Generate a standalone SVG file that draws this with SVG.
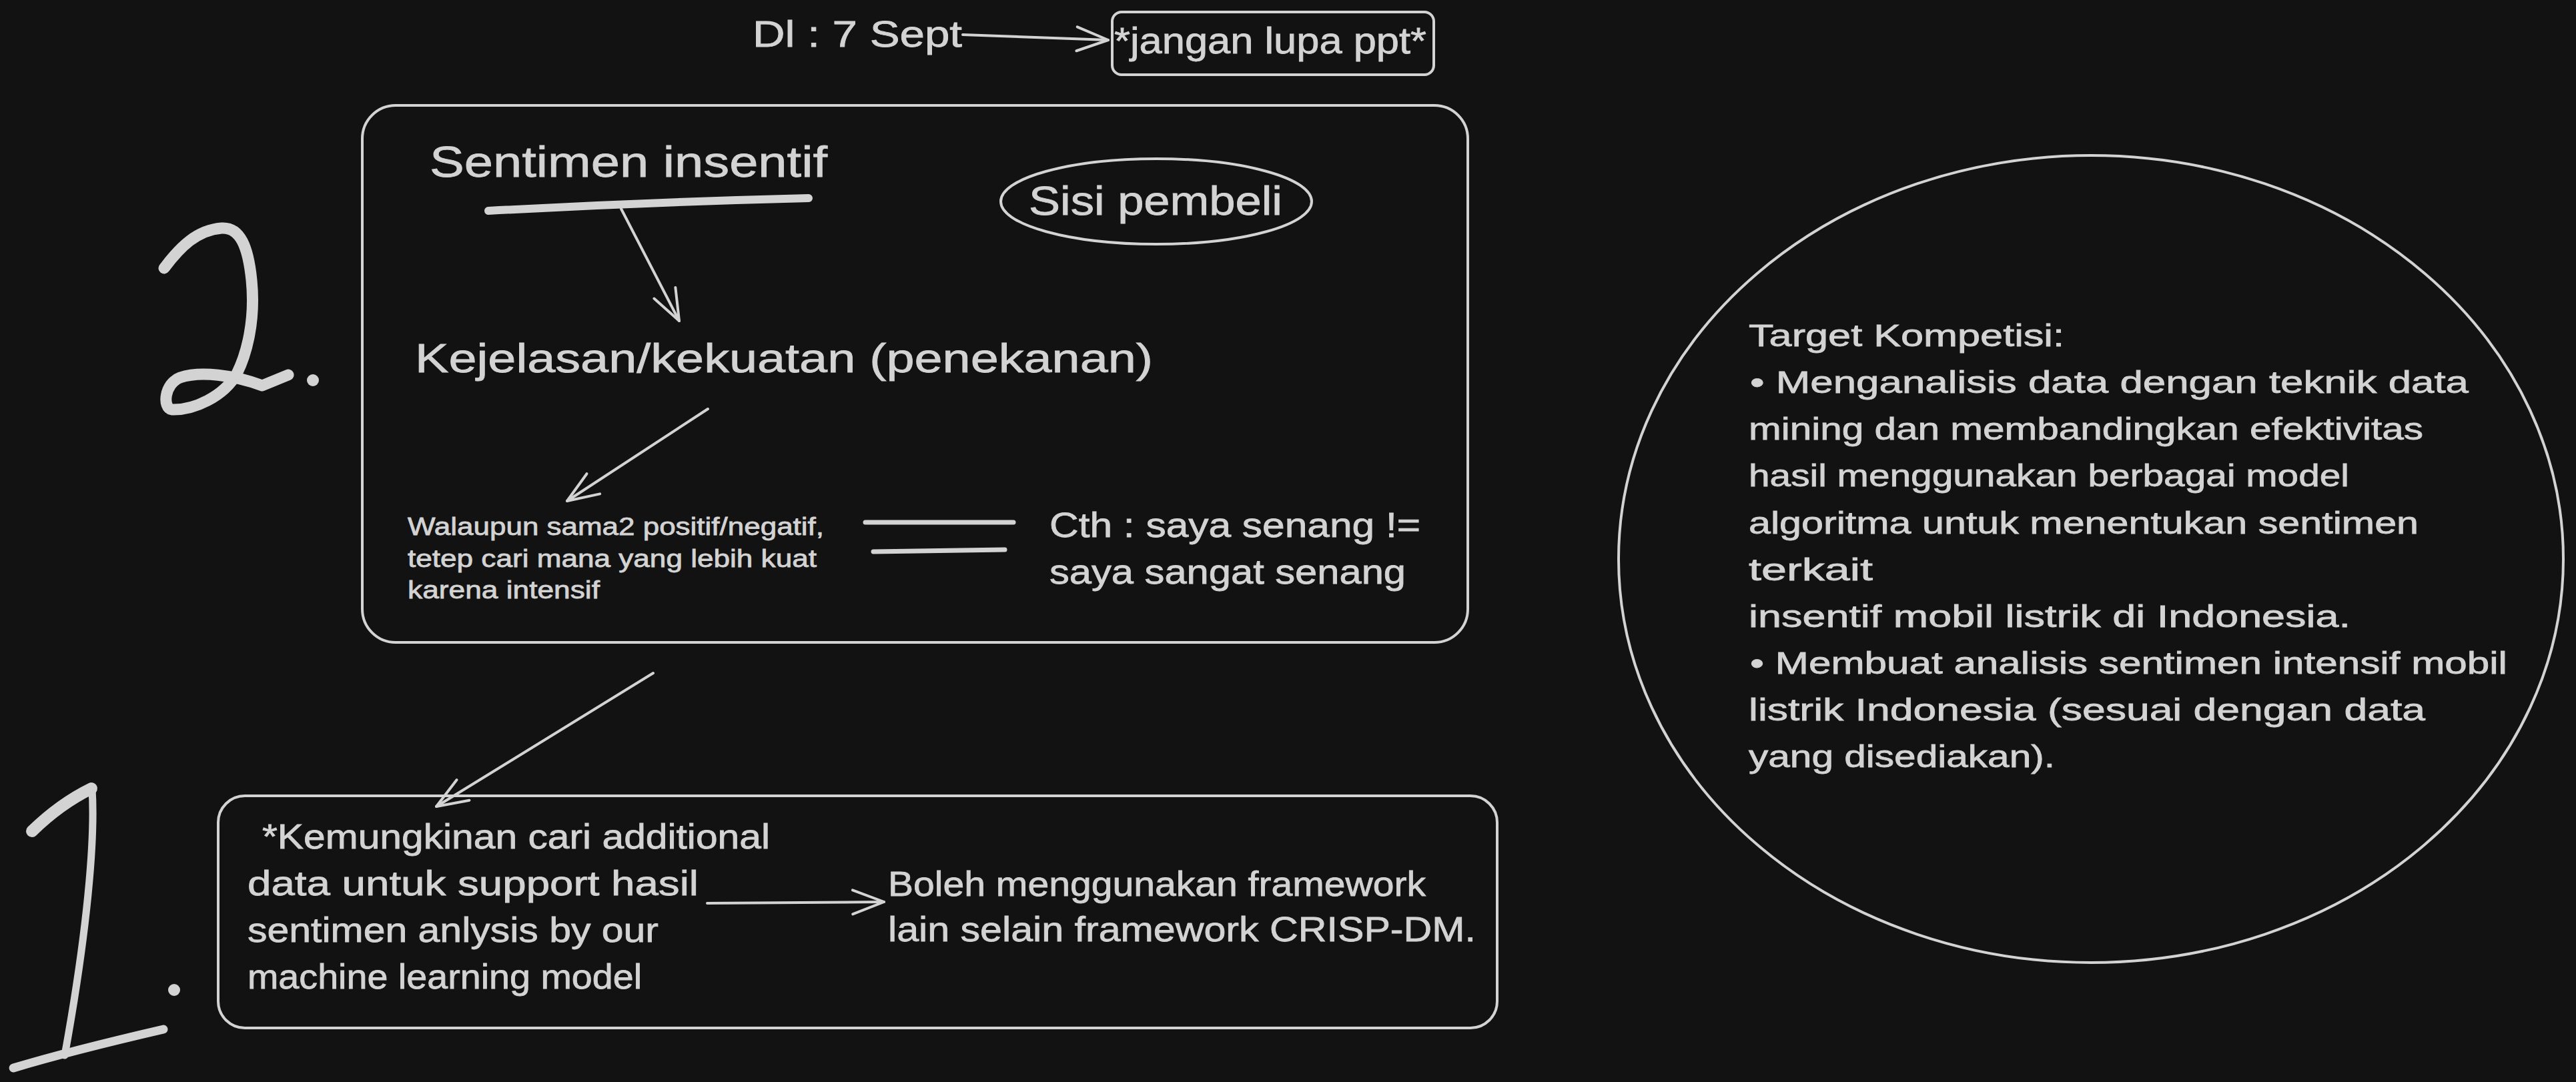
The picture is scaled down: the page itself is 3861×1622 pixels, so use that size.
<svg xmlns="http://www.w3.org/2000/svg" width="3861" height="1622" viewBox="0 0 3861 1622">
<style>
.t{font-family:"Liberation Sans","Noto Sans",sans-serif;fill:#d3d3d3;stroke:#d3d3d3;stroke-width:0.8;}
.s{fill:none;stroke:#d3d3d3;stroke-linecap:round;stroke-linejoin:round;}
.c{fill:none;stroke:#d3d3d3;stroke-width:4;stroke-linecap:round;marker-end:url(#ah);}
</style>
<defs>
<marker id="ah" markerUnits="userSpaceOnUse" viewBox="-50 -25 60 50" markerWidth="60" markerHeight="50" refX="0" refY="0" orient="auto" overflow="visible">
<path d="M-47,-18 L0,0 L-47,18" fill="none" stroke="#d3d3d3" stroke-width="4" stroke-linecap="round" stroke-linejoin="round"/>
</marker>
</defs>
<rect width="3861" height="1622" fill="#121212"/>

<g id="num2">
<path class="s" stroke-width="17" d="M246,402 C270,370 295,345 332,342 C360,340 372,370 377,420 C383,480 370,530 355,560 C335,595 290,615 258,614 C243,612 246,575 270,566 C300,556 350,562 393,578 L432,562"/>
<circle cx="469" cy="570" r="9" fill="#d3d3d3"/>
</g>

<g id="num1">
<path class="s" stroke-width="18" d="M48,1246 Q90,1205 137,1182"/>
<path class="s" stroke-width="11" d="M138,1183 C143,1260 130,1400 97,1582"/>
<path class="s" stroke-width="13" d="M20,1601 C80,1583 150,1565 245,1543"/>
<circle cx="261" cy="1484" r="9" fill="#d3d3d3"/>
</g>

<g id="deadline">
<text class="t" x="1128" y="70" font-size="56" textLength="314" lengthAdjust="spacingAndGlyphs">Dl :  7 Sept</text>
</g>

<g id="jangan">
<rect class="s" x="1667" y="18" width="482" height="94" rx="14" stroke-width="4"/>
<text class="t" x="1670" y="80" font-size="56" textLength="468" lengthAdjust="spacingAndGlyphs">*jangan lupa ppt*</text>
</g>

<g id="box2">
<rect class="s" x="543" y="158" width="1657" height="805" rx="50" stroke-width="4"/>
</g>

<g id="sentimen">
<text class="t" x="644" y="265" font-size="64" textLength="596" lengthAdjust="spacingAndGlyphs">Sentimen insentif</text>
<path class="s" stroke-width="12" d="M732,316 Q970,303 1212,297"/>
</g>

<g id="sisi">
<ellipse class="s" cx="1733" cy="302" rx="233" ry="64" stroke-width="4"/>
<text class="t" x="1542" y="322" font-size="62" textLength="380" lengthAdjust="spacingAndGlyphs">Sisi pembeli</text>
</g>

<g id="kejelasan">
<text class="t" x="622" y="558" font-size="62" textLength="1106" lengthAdjust="spacingAndGlyphs">Kejelasan/kekuatan (penekanan)</text>
</g>

<g id="walaupun">
<text class="t" x="611" y="802" font-size="37" textLength="624" lengthAdjust="spacingAndGlyphs">Walaupun sama2 positif/negatif,</text>
<text class="t" x="611" y="850" font-size="37" textLength="613" lengthAdjust="spacingAndGlyphs">tetep cari mana yang lebih kuat</text>
<text class="t" x="611" y="897" font-size="37" textLength="288" lengthAdjust="spacingAndGlyphs">karena intensif</text>
</g>

<g id="equals">
<path class="s" stroke-width="7" d="M1297,783 L1519,783"/>
<path class="s" stroke-width="7" d="M1309,827 L1506,824"/>
</g>

<g id="cth">
<text class="t" x="1573" y="805" font-size="52" textLength="556" lengthAdjust="spacingAndGlyphs">Cth : saya senang !=</text>
<text class="t" x="1573" y="875" font-size="52" textLength="534" lengthAdjust="spacingAndGlyphs">saya sangat senang</text>
</g>

<g id="box1">
<rect class="s" x="327" y="1193" width="1917" height="348" rx="40" stroke-width="4"/>
</g>

<g id="kemungkinan">
<text class="t" x="393" y="1272" font-size="52" textLength="761" lengthAdjust="spacingAndGlyphs">*Kemungkinan cari additional</text>
<text class="t" x="371" y="1342" font-size="52" textLength="676" lengthAdjust="spacingAndGlyphs">data untuk support hasil</text>
<text class="t" x="371" y="1412" font-size="52" textLength="616" lengthAdjust="spacingAndGlyphs">sentimen anlysis by our</text>
<text class="t" x="371" y="1482" font-size="52" textLength="591" lengthAdjust="spacingAndGlyphs">machine learning model</text>
</g>

<g id="boleh">
<text class="t" x="1331" y="1343" font-size="52" textLength="806" lengthAdjust="spacingAndGlyphs">Boleh menggunakan framework</text>
<text class="t" x="1331" y="1411" font-size="52" textLength="881" lengthAdjust="spacingAndGlyphs">lain selain framework CRISP-DM.</text>
</g>

<g id="target">
<ellipse class="s" cx="3134" cy="838" rx="708" ry="605" stroke-width="4"/>
<text class="t" x="2621" y="519" font-size="46" textLength="473" lengthAdjust="spacingAndGlyphs">Target Kompetisi:</text>
<text class="t" x="2623" y="589" font-size="46" textLength="1077" lengthAdjust="spacingAndGlyphs">• Menganalisis data dengan teknik data</text>
<text class="t" x="2621" y="659" font-size="46" textLength="1011" lengthAdjust="spacingAndGlyphs">mining dan membandingkan efektivitas</text>
<text class="t" x="2621" y="729" font-size="46" textLength="900" lengthAdjust="spacingAndGlyphs">hasil menggunakan berbagai model</text>
<text class="t" x="2621" y="800" font-size="46" textLength="1004" lengthAdjust="spacingAndGlyphs">algoritma untuk menentukan sentimen</text>
<text class="t" x="2621" y="870" font-size="46" textLength="186" lengthAdjust="spacingAndGlyphs">terkait</text>
<text class="t" x="2621" y="940" font-size="46" textLength="902" lengthAdjust="spacingAndGlyphs">insentif mobil listrik di Indonesia.</text>
<text class="t" x="2623" y="1010" font-size="46" textLength="1135" lengthAdjust="spacingAndGlyphs">• Membuat analisis sentimen intensif mobil</text>
<text class="t" x="2621" y="1080" font-size="46" textLength="1014" lengthAdjust="spacingAndGlyphs">listrik Indonesia (sesuai dengan data</text>
<text class="t" x="2621" y="1150" font-size="46" textLength="459" lengthAdjust="spacingAndGlyphs">yang disediakan).</text>
</g>

<g id="connectors">
<path class="c" stroke-width="5" d="M1443,52 L1661,60"/>
<path class="c" d="M931,313 L1018,481"/>
<path class="c" d="M1061,613 L850,751"/>
<path class="c" d="M979,1009 L654,1209"/>
<path class="c" d="M1060,1354 L1325,1352"/>
</g>
</svg>
